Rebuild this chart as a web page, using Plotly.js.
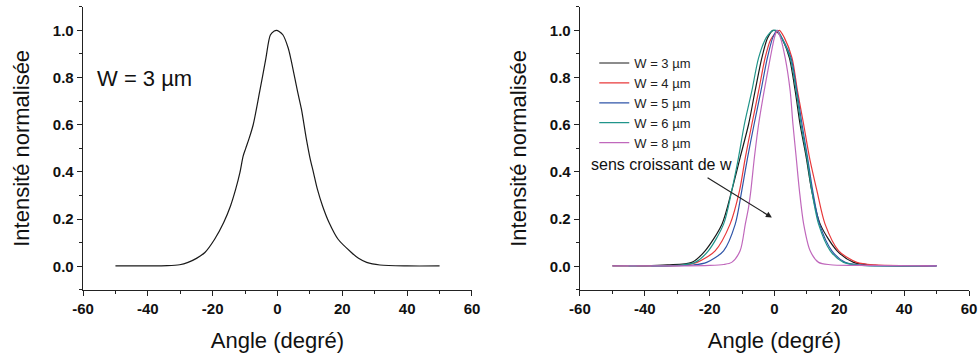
<!DOCTYPE html>
<html>
<head>
<meta charset="utf-8">
<script src="https://cdn.plot.ly/plotly-3.0.1.min.js"></script>
<style>html,body{margin:0;padding:0;background:#fff}#chart{width:979px;height:356px}</style>
</head>
<body>
<div id="chart"></div>
<script>
// Left panel: W = 3 µm
const leftX = [-50,-40,-34,-30.2,-27.6,-25,-22.4,-19.4,-16.6,-14.5,-12.9,-11.6,-10.6,-9.8,-8.8,-7.5,-5.5,-3.6,-2.2,-1,-0.3,0.5,1.7,3.3,4.1,6.2,7.4,8.9,10.0,11.1,12.3,13.9,15.9,18.7,22.8,25,27.5,31.6,40,50];
const leftY = [0.002,0.002,0.003,0.007,0.017,0.034,0.059,0.115,0.186,0.256,0.327,0.397,0.467,0.50,0.54,0.60,0.74,0.88,0.98,0.997,1.0,0.995,0.98,0.925,0.88,0.74,0.665,0.54,0.461,0.397,0.327,0.256,0.186,0.115,0.059,0.034,0.017,0.006,0.002,0.002];

// Right panel series
const seriesNames = ["W = 3 µm","W = 4 µm","W = 5 µm","W = 6 µm","W = 8 µm"];
const seriesColors = ["#1a1a1a","#e8383a","#2f55a8","#20958a","#c068bc"];

const w3X = [-50,-40,-33,-25.5,-21.4,-16.2,-13.2,-10.6,-8.0,-6.0,-3.9,-2.2,-0.5,1,2.5,4.6,6.4,7.9,9.8,11.5,14.1,19.3,24.4,30,40,50];
const w3Y = [0.002,0.002,0.006,0.017,0.066,0.179,0.32,0.461,0.601,0.742,0.883,0.965,1.0,0.99,0.96,0.883,0.742,0.601,0.461,0.32,0.179,0.066,0.017,0.006,0.002,0.002];

const w4X = [-42.5,-35,-28,-23.9,-18.3,-13.7,-10.8,-9.0,-7.0,-4.9,-2.9,-1.2,0.5,1.5,3,5.4,7.1,9.0,10.8,13.1,15.6,19.8,25.4,31,40,47.5];
const w4Y = [0.002,0.002,0.005,0.017,0.066,0.179,0.32,0.461,0.601,0.742,0.883,0.96,0.99,1.0,0.97,0.883,0.742,0.601,0.461,0.32,0.179,0.066,0.017,0.006,0.003,0.003];

const w5X = [-38,-30,-25,-20.9,-15.7,-12.1,-10.1,-8.3,-6.3,-4.2,-2.2,-0.5,0.8,2.2,5.1,6.9,8.5,10.2,11.8,13.9,17.7,21.8,27,35,50];
const w5Y = [0.002,0.003,0.006,0.017,0.066,0.179,0.32,0.461,0.601,0.742,0.883,0.97,1.0,0.97,0.883,0.742,0.601,0.461,0.32,0.179,0.066,0.017,0.005,0.002,0.002];

const w6X = [-45,-35,-29,-24.5,-20.4,-15.7,-13.2,-11.1,-9.3,-7.0,-4.9,-2.5,-0.3,1,2.5,4.85,6.7,8.2,10.0,11.5,13.6,17.2,21.3,27,35,45];
const w6Y = [0.002,0.002,0.006,0.017,0.066,0.179,0.32,0.461,0.601,0.742,0.883,0.97,1.0,0.995,0.96,0.883,0.742,0.601,0.461,0.32,0.179,0.066,0.017,0.004,0.002,0.002];

const w8X = [-50,-30,-20,-15.7,-13.2,-10.6,-9.0,-8.0,-7.3,-6.2,-4.9,-3.2,-1.3,0,0.8,1.8,3.3,4.85,5.7,6.7,7.7,9.0,11.0,13.6,17.2,25,50];
const w8Y = [0.002,0.002,0.004,0.008,0.017,0.066,0.179,0.25,0.32,0.461,0.601,0.742,0.883,0.97,1.0,0.97,0.883,0.742,0.601,0.461,0.32,0.179,0.066,0.017,0.007,0.004,0.002];

const xTicks = [-60,-40,-20,0,20,40,60];
const xTickText = ["-60","-40","-20","0","20","40","60"];
const yTicks = [0,0.2,0.4,0.6,0.8,1.0];
const yTickText = ["0.0","0.2","0.4","0.6","0.8","1.0"];

const rightX = [w3X,w4X,w5X,w6X,w8X];
const rightY = [w3Y,w4Y,w5Y,w6Y,w8Y];

const FONT = "Liberation Sans, Arial, sans-serif";

const traces = [{
  x: leftX, y: leftY, type: "scatter", mode: "lines",
  line: {color: "#1a1a1a", width: 1.2, shape: "spline", smoothing: 0.8}, showlegend: false,
  xaxis: "x", yaxis: "y"
}];
for (let i = 0; i < seriesNames.length; i++) {
  traces.push({
    x: rightX[i], y: rightY[i], type: "scatter", mode: "lines",
    name: seriesNames[i], line: {color: seriesColors[i], width: 1.2, shape: "spline", smoothing: 0.8},
    xaxis: "x2", yaxis: "y2"
  });
}

function xAxis(domain, anchor) {
  return {
    domain: domain, anchor: anchor, range: [-60, 60],
    showline: true, linecolor: "#222", linewidth: 1.3, mirror: false,
    showgrid: false, zeroline: false,
    ticks: "outside", ticklen: 5, tickwidth: 1, tickcolor: "#222",
    tickvals: xTicks, ticktext: xTickText,
    tickfont: {family: FONT, size: 15, color: "#111", weight: "bold"},
    minor: {dtick: 10, tick0: 0, ticks: "outside", ticklen: 3, tickwidth: 1, tickcolor: "#222", showgrid: false},
    title: {text: "Angle (degré)", font: {family: FONT, size: 22, color: "#111"}, standoff: 16},
    automargin: false
  };
}
function yAxis(domain, anchor) {
  return {
    domain: domain, anchor: anchor, range: [-0.1, 1.1],
    showline: true, linecolor: "#222", linewidth: 1.3,
    showgrid: false, zeroline: false,
    ticks: "outside", ticklen: 5, tickwidth: 1, tickcolor: "#222",
    tickvals: yTicks, ticktext: yTickText,
    tickfont: {family: FONT, size: 15, color: "#111", weight: "bold"},
    minor: {dtick: 0.1, tick0: 0, ticks: "outside", ticklen: 3, tickwidth: 1, tickcolor: "#222", showgrid: false},
    title: {text: "Intensité normalisée", font: {family: FONT, size: 22, color: "#111"}, standoff: 17},
    automargin: false
  };
}

const yDom = [0.1854, 0.9812];
const layout = {
  width: 979, height: 356,
  margin: {l: 0, r: 0, t: 0, b: 0},
  paper_bgcolor: "#fff", plot_bgcolor: "#fff",
  font: {family: FONT, color: "#111"},
  xaxis: xAxis([0.0848, 0.4821], "y"),
  yaxis: yAxis(yDom, "x"),
  xaxis2: xAxis([0.5924, 0.9898], "y2"),
  yaxis2: yAxis(yDom, "x2"),
  showlegend: true,
  legend: {
    x: 0.607, y: 0.865, xanchor: "left", yanchor: "top",
    bgcolor: "rgba(0,0,0,0)", borderwidth: 0,
    font: {family: FONT, size: 13, color: "#222"},
    tracegroupgap: 0
  },
  annotations: [
    {xref: "x", yref: "y", x: -41, y: 0.796, text: "W = 3 µm", showarrow: false,
     xanchor: "center", yanchor: "middle", font: {family: FONT, size: 22, color: "#111"}},
    {xref: "x2", yref: "y2", x: -35, y: 0.43, text: "sens croissant de w", showarrow: false,
     xanchor: "center", yanchor: "middle", font: {family: FONT, size: 16, color: "#111"}},
    {xref: "x2", yref: "y2", axref: "x2", ayref: "y2", x: -0.8, y: 0.207, ax: -21.1, ay: 0.379,
     text: "", showarrow: true, arrowhead: 2, arrowsize: 1, arrowwidth: 1.2, arrowcolor: "#222", standoff: 0}
  ]
};

Plotly.newPlot("chart", traces, layout, {staticPlot: true, displayModeBar: false});
</script>
</body>
</html>
